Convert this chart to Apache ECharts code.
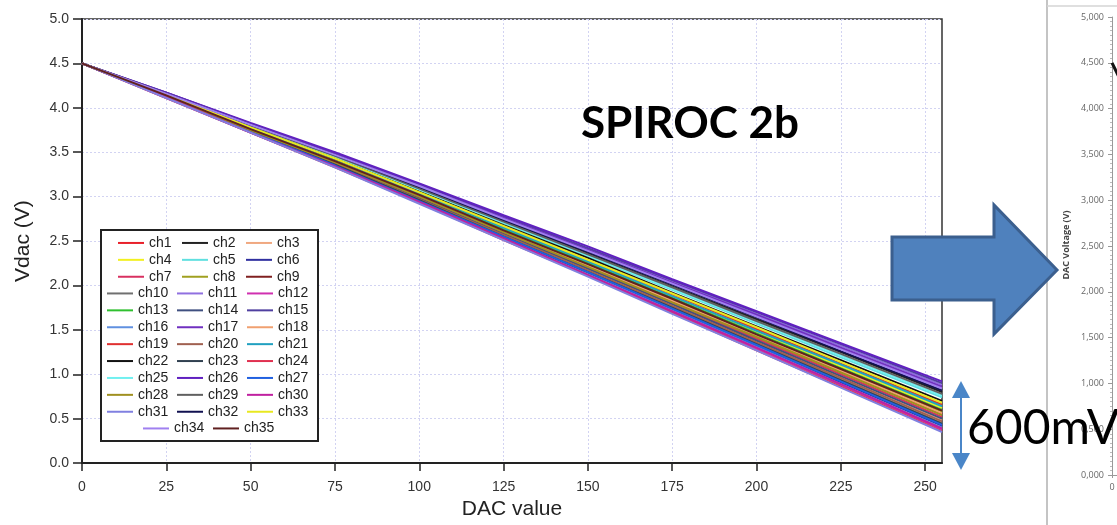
<!DOCTYPE html>
<html>
<head>
<meta charset="utf-8">
<script src="https://cdn.jsdelivr.net/npm/echarts@6/dist/echarts.min.js"></script>
<style>
html,body{margin:0;padding:0;background:#fff;}
#chart{width:1117px;height:525px;}
</style>
</head>
<body>
<div id="chart"></div>
<script>
// ---- data ----
const dacValues = [0, 25, 50, 75, 100, 125, 150, 175, 200, 225, 255];
const xTickLabels = [0, 25, 50, 75, 100, 125, 150, 175, 200, 225, 250];
const ch1  = [4.50, 4.12, 3.75, 3.39, 2.99, 2.60, 2.21, 1.82, 1.41, 1.03, 0.55];
const ch2  = [4.50, 4.16, 3.80, 3.46, 3.10, 2.73, 2.36, 1.99, 1.62, 1.25, 0.80];
const ch3  = [4.50, 4.13, 3.74, 3.37, 2.97, 2.58, 2.18, 1.77, 1.37, 0.96, 0.48];
const ch4  = [4.50, 4.14, 3.77, 3.41, 3.03, 2.64, 2.26, 1.87, 1.48, 1.09, 0.62];
const ch5  = [4.50, 4.15, 3.79, 3.44, 3.08, 2.70, 2.33, 1.95, 1.57, 1.19, 0.74];
const ch6  = [4.50, 4.12, 3.73, 3.35, 2.95, 2.54, 2.13, 1.73, 1.31, 0.91, 0.42];
const ch7  = [4.50, 4.13, 3.75, 3.38, 2.99, 2.59, 2.20, 1.80, 1.40, 1.00, 0.52];
const ch8  = [4.50, 4.14, 3.76, 3.40, 3.01, 2.62, 2.24, 1.84, 1.45, 1.05, 0.58];
const ch9  = [4.50, 4.16, 3.81, 3.48, 3.12, 2.75, 2.39, 2.03, 1.66, 1.29, 0.85];
const ch10 = [4.50, 4.12, 3.74, 3.36, 2.96, 2.56, 2.16, 1.75, 1.35, 0.94, 0.45];
const ch11 = [4.50, 4.17, 3.82, 3.49, 3.13, 2.77, 2.41, 2.05, 1.68, 1.32, 0.88];
const ch12 = [4.50, 4.11, 3.72, 3.34, 2.94, 2.52, 2.12, 1.70, 1.29, 0.88, 0.38];
const ch13 = [4.50, 4.14, 3.77, 3.40, 3.02, 2.63, 2.25, 1.86, 1.46, 1.07, 0.60];
const ch14 = [4.50, 4.13, 3.75, 3.37, 2.98, 2.58, 2.19, 1.79, 1.38, 0.98, 0.50];
const ch15 = [4.50, 4.17, 3.82, 3.49, 3.14, 2.78, 2.42, 2.06, 1.70, 1.34, 0.90];
const ch16 = [4.50, 4.12, 3.73, 3.35, 2.94, 2.53, 2.13, 1.72, 1.31, 0.89, 0.40];
const ch17 = [4.50, 4.16, 3.82, 3.48, 3.12, 2.76, 2.40, 2.03, 1.67, 1.30, 0.86];
const ch18 = [4.50, 4.13, 3.76, 3.39, 3.01, 2.61, 2.22, 1.83, 1.43, 1.04, 0.56];
const ch19 = [4.50, 4.14, 3.78, 3.42, 3.04, 2.66, 2.28, 1.90, 1.51, 1.12, 0.66];
const ch20 = [4.50, 4.13, 3.74, 3.37, 2.97, 2.57, 2.17, 1.77, 1.36, 0.96, 0.47];
const ch21 = [4.50, 4.14, 3.77, 3.42, 3.04, 2.65, 2.27, 1.88, 1.49, 1.11, 0.64];
const ch22 = [4.50, 4.15, 3.79, 3.43, 3.06, 2.68, 2.31, 1.92, 1.54, 1.16, 0.70];
const ch23 = [4.50, 4.12, 3.73, 3.36, 2.96, 2.55, 2.15, 1.75, 1.34, 0.93, 0.44];
const ch24 = [4.50, 4.11, 3.72, 3.33, 2.93, 2.51, 2.11, 1.69, 1.27, 0.86, 0.36];
const ch25 = [4.50, 4.15, 3.80, 3.45, 3.08, 2.71, 2.34, 1.96, 1.59, 1.21, 0.76];
const ch26 = [4.50, 4.17, 3.83, 3.50, 3.15, 2.79, 2.44, 2.07, 1.71, 1.35, 0.92];
const ch27 = [4.50, 4.12, 3.73, 3.35, 2.95, 2.55, 2.15, 1.74, 1.33, 0.92, 0.43];
const ch28 = [4.50, 4.13, 3.75, 3.39, 3.00, 2.60, 2.21, 1.81, 1.42, 1.02, 0.54];
const ch29 = [4.50, 4.16, 3.80, 3.46, 3.09, 2.72, 2.35, 1.98, 1.60, 1.23, 0.78];
const ch30 = [4.50, 4.12, 3.72, 3.34, 2.94, 2.53, 2.12, 1.71, 1.30, 0.89, 0.39];
const ch31 = [4.50, 4.11, 3.72, 3.33, 2.92, 2.51, 2.10, 1.68, 1.27, 0.85, 0.35];
const ch32 = [4.50, 4.16, 3.81, 3.47, 3.11, 2.74, 2.38, 2.01, 1.64, 1.26, 0.82];
const ch33 = [4.50, 4.15, 3.78, 3.43, 3.05, 2.67, 2.29, 1.91, 1.53, 1.14, 0.68];
const ch34 = [4.50, 4.16, 3.81, 3.47, 3.12, 2.75, 2.39, 2.02, 1.65, 1.28, 0.84];
const ch35 = [4.50, 4.14, 3.76, 3.40, 3.02, 2.62, 2.24, 1.85, 1.45, 1.06, 0.59];
const channelData = [ch1,ch2,ch3,ch4,ch5,ch6,ch7,ch8,ch9,ch10,ch11,ch12,ch13,ch14,ch15,ch16,ch17,ch18,ch19,ch20,ch21,ch22,ch23,ch24,ch25,ch26,ch27,ch28,ch29,ch30,ch31,ch32,ch33,ch34,ch35];
const channelNames = channelData.map((d, i) => 'ch' + (i + 1));
// second (cropped) chart on the right
const rightDac = [0, 255];
const rightV = [4.5, 0.6];

// ---- styles ----
const channelColors = [
  '#e8202a','#222222','#f0a880','#f2f020','#60e0e0','#3030a0','#d83060','#a0a020','#802020',
  '#707070','#9070e0','#d030b0','#30c030','#405080','#5040a0','#6090e0','#7030c0','#f0a070',
  '#e03030','#a06050','#20a0c0','#111111','#304050','#e03050','#70f0f0','#6020c0','#2060e0',
  '#a09020','#606060','#c020a0','#8080e0','#101050','#e8e820','#a080f0','#602020'
];
const FONT = '"Liberation Sans", Arial, sans-serif';

const series = channelData.map((vals, i) => ({
  name: channelNames[i],
  type: 'line',
  xAxisIndex: 0, yAxisIndex: 0,
  data: dacValues.map((x, j) => [x, vals[j]]),
  symbol: 'none',
  color: channelColors[i],
  lineStyle: { width: 2 },
  z: 2
}));
series.push({
  name: 'right',
  type: 'line',
  xAxisIndex: 1, yAxisIndex: 1,
  data: rightDac.map((x, j) => [x, rightV[j]]),
  symbol: 'none',
  color: '#111',
  lineStyle: { width: 3 }
});

const legendCommon = {
  orient: 'horizontal',
  itemWidth: 26, itemHeight: 2, itemGap: 0, icon: 'rect',
  padding: 0, selectedMode: false, z: 6,
  textStyle: { fontSize: 14, lineHeight: 16.9, color: '#222', fontFamily: FONT }
};

const chart = echarts.init(document.getElementById('chart'), null, { renderer: 'canvas' });
chart.setOption({
  animation: false,
  backgroundColor: '#fff',
  grid: [
    { left: 82, top: 19, width: 860, height: 453, show: true, borderColor: '#333', borderWidth: 1.5, backgroundColor: 'transparent' },
    { left: 1112, top: 17, width: 700, height: 458 }
  ],
  xAxis: [
    {
      type: 'value', gridIndex: 0, min: 0, max: 255, interval: 25,
      name: 'DAC value', nameLocation: 'middle', nameGap: 30,
      nameTextStyle: { fontSize: 21, color: '#222', fontFamily: FONT },
      axisLine: { lineStyle: { color: '#222', width: 2 } },
      axisTick: { length: 8, lineStyle: { color: '#222', width: 1.5 }, customValues: xTickLabels },
      axisLabel: { fontSize: 14, color: '#333', margin: 17, fontFamily: FONT, customValues: xTickLabels },
      splitLine: { show: true, lineStyle: { color: '#d2d3f2', type: [2, 2], width: 1 } }
    },
    {
      type: 'value', gridIndex: 1, min: 0, max: 255, interval: 50,
      axisLine: { lineStyle: { color: '#999', width: 1 } },
      axisTick: { length: 3, lineStyle: { color: '#999' } },
      axisLabel: { fontSize: 9, color: '#666', margin: 8, fontFamily: '"Open Sans", sans-serif' },
      splitLine: { show: false }
    }
  ],
  yAxis: [
    {
      type: 'value', gridIndex: 0, min: 0, max: 5, interval: 0.5,
      name: 'Vdac (V)', nameLocation: 'middle', nameGap: 48,
      nameTextStyle: { fontSize: 21, color: '#222', fontFamily: FONT },
      axisLine: { lineStyle: { color: '#222', width: 2 } },
      axisTick: { length: 9, lineStyle: { color: '#222', width: 1.5 } },
      axisLabel: { fontSize: 14, color: '#333', margin: 13, fontFamily: FONT, formatter: v => v.toFixed(1) },
      splitLine: { show: true, lineStyle: { color: '#d2d3f2', type: [2, 2], width: 1 } }
    },
    {
      type: 'value', gridIndex: 1, min: 0, max: 5, interval: 0.5,
      axisLine: { show: true, lineStyle: { color: '#999', width: 1 } },
      axisTick: { show: true, length: 4, lineStyle: { color: '#999' } },
      minorTick: { show: true, splitNumber: 10, length: 2, lineStyle: { color: '#bbb' } },
      axisLabel: { fontSize: 9, color: '#666', margin: 8, fontFamily: '"Open Sans", sans-serif',
        formatter: v => v.toFixed(3).replace('.', ',') },
      splitLine: { show: false }
    }
  ],
  legend: [
    Object.assign({}, legendCommon, { data: channelNames.slice(0, 9), left: 118, top: 234.5, width: 193,
      textStyle: Object.assign({}, legendCommon.textStyle, { width: 33 }) }),
    Object.assign({}, legendCommon, { data: channelNames.slice(9, 33), left: 107, top: 285, width: 211,
      textStyle: Object.assign({}, legendCommon.textStyle, { width: 39 }) }),
    Object.assign({}, legendCommon, { data: channelNames.slice(33), left: 143, top: 420, width: 141,
      textStyle: Object.assign({}, legendCommon.textStyle, { width: 39 }) })
  ],
  graphic: [
    { type: 'rect', z: 5, shape: { x: 101, y: 230, width: 217, height: 211 },
      style: { fill: '#fff', stroke: '#222', lineWidth: 2 } },
    { type: 'line', z: 1, shape: { x1: 1047, y1: 0, x2: 1047, y2: 525 }, style: { stroke: '#c4c4c4', lineWidth: 2 } },
    { type: 'line', z: 1, shape: { x1: 1047, y1: 6, x2: 1117, y2: 6 }, style: { stroke: '#d4d4d4', lineWidth: 1.5 } },
    { type: 'text', z: 10, x: 1066, y: 245, rotation: Math.PI / 2,
      style: { text: 'DAC Voltage (V)', font: 'bold 9px "Open Sans", sans-serif', fill: '#444', align: 'center', verticalAlign: 'middle' } },
    { type: 'text', z: 10, x: 690, y: 124,
      style: { text: 'SPIROC 2b', font: 'bold 44px Lato, "Open Sans", sans-serif', fill: '#000', align: 'center', verticalAlign: 'middle' } },
    { type: 'polygon', z: 10,
      shape: { points: [[892,237],[994,237],[994,205],[1057,270],[994,334],[994,300],[892,300]] },
      style: { fill: '#4f81bd', stroke: '#3b5f8e', lineWidth: 3 } },
    { type: 'line', z: 10, shape: { x1: 961, y1: 392, x2: 961, y2: 460 }, style: { stroke: '#4a86c8', lineWidth: 2 } },
    { type: 'polygon', z: 10, shape: { points: [[961,381],[952,398],[970,398]] }, style: { fill: '#4a86c8' } },
    { type: 'polygon', z: 10, shape: { points: [[961,470],[952,453],[970,453]] }, style: { fill: '#4a86c8' } },
    { type: 'text', z: 11, x: 967, y: 429,
      style: { text: '600mV', font: '48px Lato, "Open Sans", sans-serif', fill: '#000', align: 'left', verticalAlign: 'middle' } }
  ],
  series: series
});
</script>
</body>
</html>
